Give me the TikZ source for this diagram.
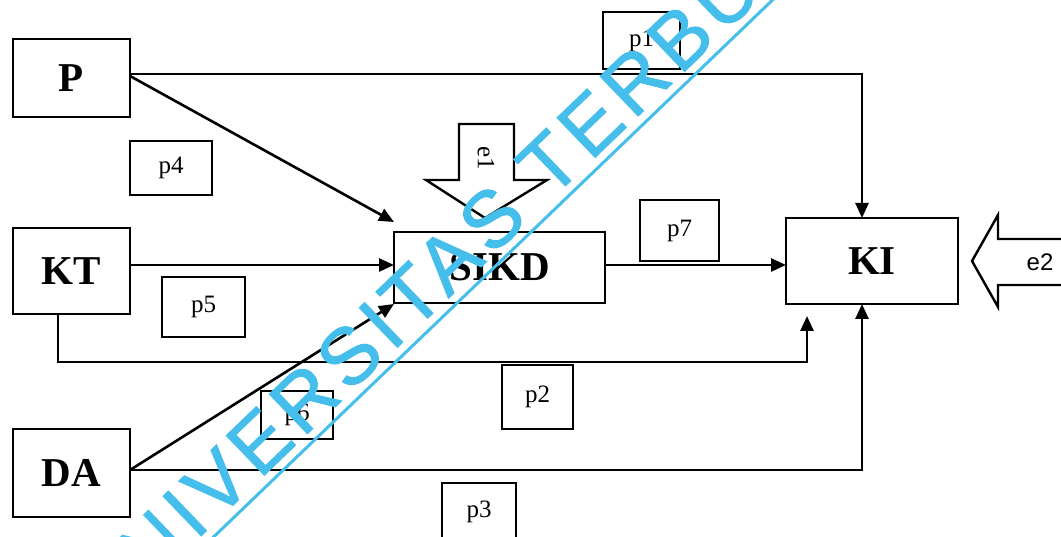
\documentclass[tikz,border=0pt]{standalone}
\usepackage{fontspec}
\setmainfont{Liberation Serif}
\newfontfamily\sansf{Liberation Sans}
\newfontfamily\wmfont{Liberation Sans}[LetterSpace=8.0,FakeBold=1.2]
\usetikzlibrary{arrows.meta}
\definecolor{wmcyan}{RGB}{70,190,235}
\tikzset{
  bigbox/.style={draw, line width=2.6pt, fill=white, inner sep=0pt, outer sep=0pt,
    font=\bfseries\fontsize{41}{41}\selectfont},
  pbox/.style={draw, line width=2.4pt, fill=white, inner sep=0pt, outer sep=0pt,
    font=\fontsize{25}{25}\selectfont},
  conn/.style={line width=2.6pt, -{Triangle[length=15pt,width=13pt]}},
  blockarrow/.style={draw, line width=2.4pt, fill=white, line join=miter},
}
\begin{document}
\begin{tikzpicture}[x=1pt,y=-1pt]
\useasboundingbox (0,0) rectangle (1061,537);
\clip (0,0) rectangle (1061,537);
% main boxes
\node[bigbox, minimum width=117pt, minimum height=78pt] (P) at (71.5,78) {P};
\node[bigbox, minimum width=117pt, minimum height=86pt] (KT) at (71.5,271) {KT};
\node[bigbox, minimum width=117pt, minimum height=88pt] (DA) at (71.5,473) {DA};
\node[bigbox, minimum width=211pt, minimum height=71pt] (SIKD) at (499.5,267.5) {SIKD};
\node[bigbox, minimum width=172pt, minimum height=86pt] (KI) at (872,261) {KI};
% path labels
\node[pbox, minimum width=77pt, minimum height=57pt] (p1) at (641.5,40.5) {p1};
\node[pbox, minimum width=82pt, minimum height=54pt] (p4) at (171,168) {p4};
\node[pbox, minimum width=83pt, minimum height=60pt] (p5) at (203.5,307) {p5};
\node[pbox, minimum width=72pt, minimum height=48pt] (p6) at (297,415) {p6};
\node[pbox, minimum width=79pt, minimum height=61pt] (p7) at (679.5,230.5) {p7};
\node[pbox, minimum width=71pt, minimum height=64pt] (p2) at (537.5,397) {p2};
\node[pbox, minimum width=74pt, minimum height=58pt] (p3) at (479,512) {p3};
% connectors
\draw[conn] ([yshift=4pt]P.east) -| ([xshift=-10pt]KI.north);
\draw[conn] ([yshift=2pt]P.east) -- ([yshift=10pt]SIKD.north west);
\draw[conn] ([yshift=6pt]KT.east) -- ([yshift=6pt]KT.east -| SIKD.west);
\draw[conn] ([yshift=3pt]DA.east) -- ([yshift=-1pt]SIKD.south west);
\draw[conn] ([yshift=3pt]DA.east) -| ([xshift=-10pt]KI.south);
\coordinate (ktin) at (807,316);
\draw[conn] ([xshift=-13.5pt]KT.south) -- ++(0,48) -| (ktin);
\draw[conn] ([yshift=2.5pt]SIKD.east) -- ([yshift=2.5pt]SIKD.east -| KI.west);
% error terms
\draw[blockarrow] (459,124) -- (514,124) -- (514,180) -- (547,180) -- (485,218) -- (426,180) -- (459,180) -- cycle;
\node[rotate=-90, inner sep=0pt, font=\fontsize{25}{25}\selectfont] (e1) at (486,158) {e1};
\draw[blockarrow] (972,261) -- (998,215) -- (998,239) -- (1075,239) -- (1075,285) -- (998,285) -- (998,307) -- cycle;
\node[inner sep=0pt, font=\sansf\fontsize{24}{24}\selectfont] (e2) at (1040,262) {e2};
% watermark
\node[rotate=43.85, text=wmcyan, inner sep=0pt] (wm) at (458,251) {\wmfont\fontsize{80}{80}\selectfont UNIVERSITAS TERBUKA};
\draw[wmcyan, line width=3pt] (200,550) -- (785,-12);
\end{tikzpicture}
\end{document}
